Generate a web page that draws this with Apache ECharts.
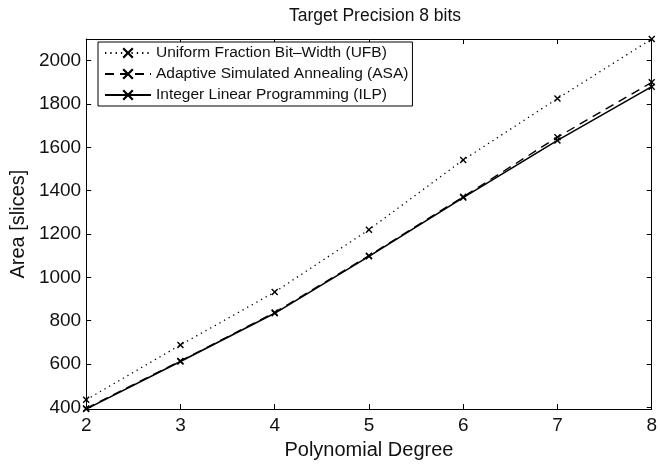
<!DOCTYPE html>
<html>
<head>
<meta charset="utf-8">
<script src="https://cdn.jsdelivr.net/npm/echarts@6/dist/echarts.min.js"></script>
<style>html,body{margin:0;padding:0;background:#fff}#c{width:660px;height:465px}</style>
</head>
<body>
<div id="c"></div>
<script>
var degrees = [2, 3, 4, 5, 6, 7, 8];
var ufb = [435, 688, 932, 1220, 1542, 1825, 2100];
var asa = [395, 614, 838, 1100, 1372, 1647, 1900];
var ilp = [392, 612, 834, 1097, 1368, 1632, 1880];
var yTicks = [400, 600, 800, 1000, 1200, 1400, 1600, 1800, 2000];
var xTicks = [2, 3, 4, 5, 6, 7, 8];
var names = ['Uniform Fraction Bit\u2013Width (UFB)', 'Adaptive Simulated Annealing (ASA)', 'Integer Linear Programming (ILP)'];

function pairs(vals) { return degrees.map(function (d, i) { return [d, vals[i]]; }); }
var allVals = ufb.concat(asa, ilp);
var yMin = Math.min.apply(null, allVals);
var yMax = Math.max.apply(null, allVals);

var FONT = '"Liberation Sans", Arial, Helvetica, sans-serif';
var X_SYM = 'path://M0,1.4 L1.4,0 L5,3.6 L8.6,0 L10,1.4 L6.4,5 L10,8.6 L8.6,10 L5,6.4 L1.4,10 L0,8.6 L3.6,5 Z';

function mkSeries(name, vals, type, width) {
  return {
    name: name, type: 'line', data: pairs(vals),
    symbol: X_SYM, symbolSize: 7, showAllSymbol: true,
    lineStyle: { color: '#000', width: width, type: type },
    itemStyle: { color: '#000' },
    emphasis: { disabled: true }, animation: false, z: 3
  };
}

var axisCommon = {
  axisLine: { show: true, onZero: false, lineStyle: { color: '#000', width: 1 } },
  splitLine: { show: false }
};

var chart = echarts.init(document.getElementById('c'), null, { renderer: 'canvas' });
chart.setOption({
  backgroundColor: '#fff',
  animation: false,
  title: {
    text: 'Target Precision 8 bits', left: 370, top: 2, textAlign: 'center',
    textStyle: { fontFamily: FONT, fontSize: 17.5, fontWeight: 'normal', color: '#111' }
  },
  grid: { left: 84, right: 3, top: 39, bottom: 49, containLabel: false },
  legend: {
    left: 98, top: 42, orient: 'vertical', itemGap: 5, itemWidth: 46, itemHeight: 14,
    padding: [3, 4, 3, 6], borderColor: '#000', borderWidth: 1, backgroundColor: '#fff',
    textStyle: { fontFamily: FONT, fontSize: 15.5, color: '#111' },
    data: names
  },
  xAxis: [
    Object.assign({}, axisCommon, {
      type: 'value', min: 2, max: 8, interval: 1, position: 'bottom',
      name: 'Polynomial Degree', nameLocation: 'middle', nameGap: 29,
      nameTextStyle: { fontFamily: FONT, fontSize: 20, color: '#111' },
      axisTick: { show: true, inside: true, length: 5, lineStyle: { color: '#000' } },
      axisLabel: { fontFamily: FONT, fontSize: 19, color: '#111', margin: 7,
        customValues: xTicks, formatter: function (v) { return String(v); } }
    }),
    Object.assign({}, axisCommon, {
      type: 'value', min: 2, max: 8, interval: 1, position: 'top',
      axisTick: { show: true, inside: true, length: 5, lineStyle: { color: '#000' } },
      axisLabel: { show: false }
    })
  ],
  yAxis: [
    Object.assign({}, axisCommon, {
      type: 'value', min: yMin, max: yMax, position: 'left',
      name: 'Area [slices]', nameLocation: 'middle', nameGap: 54,
      nameTextStyle: { fontFamily: FONT, fontSize: 20, color: '#111' },
      axisTick: { show: true, inside: true, length: 5, customValues: yTicks, lineStyle: { color: '#000' } },
      axisLabel: { fontFamily: FONT, fontSize: 19, color: '#111', margin: 5, customValues: yTicks,
        formatter: function (v) { return String(v); } }
    }),
    Object.assign({}, axisCommon, {
      type: 'value', min: yMin, max: yMax, position: 'right',
      axisTick: { show: true, inside: true, length: 5, customValues: yTicks, lineStyle: { color: '#000' } },
      axisLabel: { show: false, customValues: yTicks }
    })
  ],
  series: [
    mkSeries(names[0], ufb, [1.3, 4], 1.3),
    mkSeries(names[1], asa, [9, 6], 1.4),
    mkSeries(names[2], ilp, 'solid', 1.6)
  ]
});
</script>
</body>
</html>
